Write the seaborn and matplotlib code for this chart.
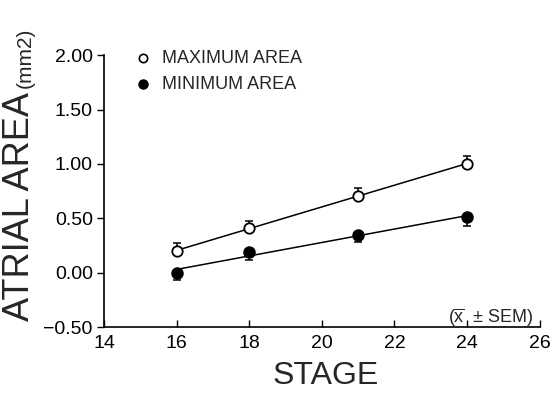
import matplotlib
matplotlib.use("Agg")
import matplotlib.pyplot as plt
import seaborn as sns
import numpy as np
import pandas as pd

stages = [16, 18, 21, 24]
max_area = [0.20, 0.41, 0.71, 1.00]
max_sem = [0.07, 0.07, 0.07, 0.07]
min_area = [0.00, 0.19, 0.35, 0.51]
min_sem = [0.07, 0.07, 0.07, 0.08]
x_ticks = [14, 16, 18, 20, 22, 24, 26]
y_ticks = [-0.50, 0.00, 0.50, 1.00, 1.50, 2.00]

sns.set_style("ticks")
plt.rcParams['font.family'] = ['Liberation Sans', 'DejaVu Sans']
plt.rcParams['mathtext.fontset'] = 'custom'
plt.rcParams['mathtext.rm'] = 'Liberation Sans'

df = pd.DataFrame({"stage": stages, "max": max_area, "min": min_area})

fig = plt.figure(figsize=(5.53, 3.97), dpi=100)
ax = fig.add_axes([0.188, 0.176, 0.788, 0.685])

# regression lines
sns.regplot(data=df, x="stage", y="max", scatter=False, ci=None, truncate=True,
            ax=ax, line_kws=dict(color="black", lw=1.1))
sns.regplot(data=df, x="stage", y="min", scatter=False, ci=None, truncate=True,
            ax=ax, line_kws=dict(color="black", lw=1.1))

# one-sided error bars
ax.errorbar(stages, max_area, yerr=[np.zeros(len(max_sem)), max_sem], fmt="none",
            ecolor="black", elinewidth=1.1, capsize=3, capthick=1.1, zorder=2)
ax.errorbar(stages, min_area, yerr=[min_sem, np.zeros(len(min_sem))], fmt="none",
            ecolor="black", elinewidth=1.1, capsize=3, capthick=1.1, zorder=2)

ax.plot(stages, max_area, "o", ms=7.5, mfc="white", mec="black", mew=1.3, zorder=4)
ax.plot(stages, min_area, "o", ms=8, mfc="black", mec="black", zorder=4)

ax.set_xlim(14, 26)
ax.set_ylim(-0.5, 2.0)
ax.set_xticks(x_ticks)
ax.set_yticks(y_ticks)
ax.set_xticklabels([str(t) for t in x_ticks], fontsize=14)
ax.set_yticklabels([f"{t:.2f}".replace("-", "\u2212") for t in y_ticks], fontsize=14)
ax.tick_params(axis="x", direction="in", length=5, width=1, pad=6, colors="black")
ax.tick_params(axis="y", direction="out", length=5, width=1, pad=3, colors="black")
sns.despine(ax=ax)
for s in ["left", "bottom"]:
    ax.spines[s].set_linewidth(1.2)
    ax.spines[s].set_color("black")

ax.set_xlabel("")
ax.set_ylabel("")
fig.text(0.588, 0.053, "STAGE", fontsize=23, ha="center", va="center")
fig.text(0.036, 0.48, "ATRIAL AREA", rotation=90, fontsize=26, ha="center", va="center")
fig.text(0.046, 0.855, "(mm2)", rotation=90, fontsize=15, ha="center", va="center")

# legend
ax.plot([15.07], [1.97], "o", ms=6, mfc="white", mec="black", mew=1.2, clip_on=False)
ax.plot([15.07], [1.735], "o", ms=6.5, mfc="black", mec="black", clip_on=False)
ax.text(15.6, 1.97, "MAXIMUM AREA", fontsize=13, va="center", ha="left")
ax.text(15.6, 1.735, "MINIMUM AREA", fontsize=13, va="center", ha="left")

ax.text(25.85, -0.41, r"($\overline{\mathrm{x}}$  $\pm$ SEM)", fontsize=13, ha="right", va="center")

fig.savefig("out.png", dpi=100)
